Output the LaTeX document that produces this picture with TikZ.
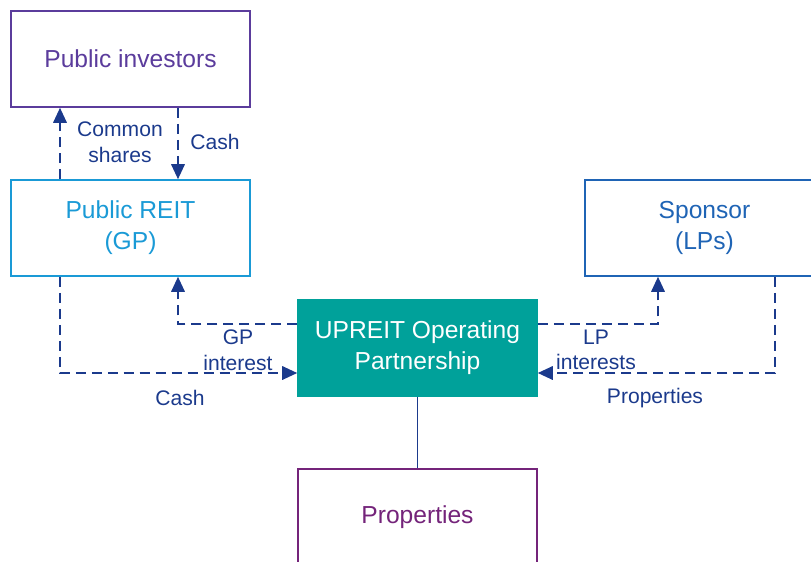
\documentclass[tikz,border=0pt]{standalone}
\usepackage{fontspec}
\setmainfont{Liberation Sans}
\usetikzlibrary{arrows.meta}
\definecolor{invpurple}{HTML}{5B3C9C}
\definecolor{reitblue}{HTML}{1A9AD6}
\definecolor{sponsorblue}{HTML}{1F64B5}
\definecolor{upreitteal}{HTML}{00A19A}
\definecolor{proppurple}{HTML}{74247A}
\definecolor{flownavy}{HTML}{1B3A8C}
\begin{document}
\begin{tikzpicture}[
    x=0.02cm, y=-0.02cm,
    entity/.style={rectangle, draw, line width=0.9pt, minimum width=4.78cm, minimum height=1.92cm, align=center, font=\fontsize{14}{17.6}\selectfont},
    flow/.style={-{Triangle[length=0.3cm, width=0.27cm]}, dash pattern=on 0.2cm off 0.12cm, line width=1pt, flownavy},
    flowlabel/.style={align=center, text=flownavy, font=\fontsize{12}{14.6}\selectfont, inner sep=0pt}
]
    \useasboundingbox (0,0) rectangle (811,561);
    \clip (0,0) rectangle (811,561);

    \node[entity, draw=invpurple, text=invpurple] (investors) at (130.5,59) {Public investors};
    \node[entity, draw=reitblue, text=reitblue] (reit) at (130.5,228) {Public REIT\\(GP)};
    \node[entity, draw=sponsorblue, text=sponsorblue] (sponsor) at (704.5,228) {Sponsor\\(LPs)};
    \node[entity, draw=upreitteal, fill=upreitteal, text=white] (upreit) at (417.5,348) {UPREIT Operating\\Partnership};
    \node[entity, draw=proppurple, text=proppurple] (props) at (417.5,517) {Properties};

    % turning points of the connectors
    \coordinate (gpturn) at (178,324);
    \coordinate (cashturn) at (60,373);
    \coordinate (lpturn) at (658,324);
    \coordinate (propturn) at (775,373);

    \draw[flow] (reit.north -| cashturn) -- (investors.south -| cashturn);
    \draw[flow] (investors.south -| gpturn) -- (reit.north -| gpturn);
    \draw[flow] (upreit.west |- gpturn) -- (gpturn) -- (reit.south -| gpturn);
    \draw[flow] (reit.south -| cashturn) -- (cashturn) -- (upreit.west |- cashturn);
    \draw[flow] (upreit.east |- lpturn) -- (lpturn) -- (sponsor.south -| lpturn);
    \draw[flow] (sponsor.south -| propturn) -- (propturn) -- (upreit.east |- propturn);
    \draw[line width=1.1pt, flownavy] (upreit) -- (props);

    \node[flowlabel] (sharestext) at (120,142) {Common\\shares};
    \node[flowlabel] (cashtext) at (215,142) {Cash};
    \node[flowlabel] (gptext) at (238,350) {GP\\interest};
    \node[flowlabel] (cashintext) at (180,398) {Cash};
    \node[flowlabel] (lptext) at (596,350) {LP\\interests};
    \node[flowlabel] (proptext) at (655,398) {Properties};
\end{tikzpicture}
\end{document}
